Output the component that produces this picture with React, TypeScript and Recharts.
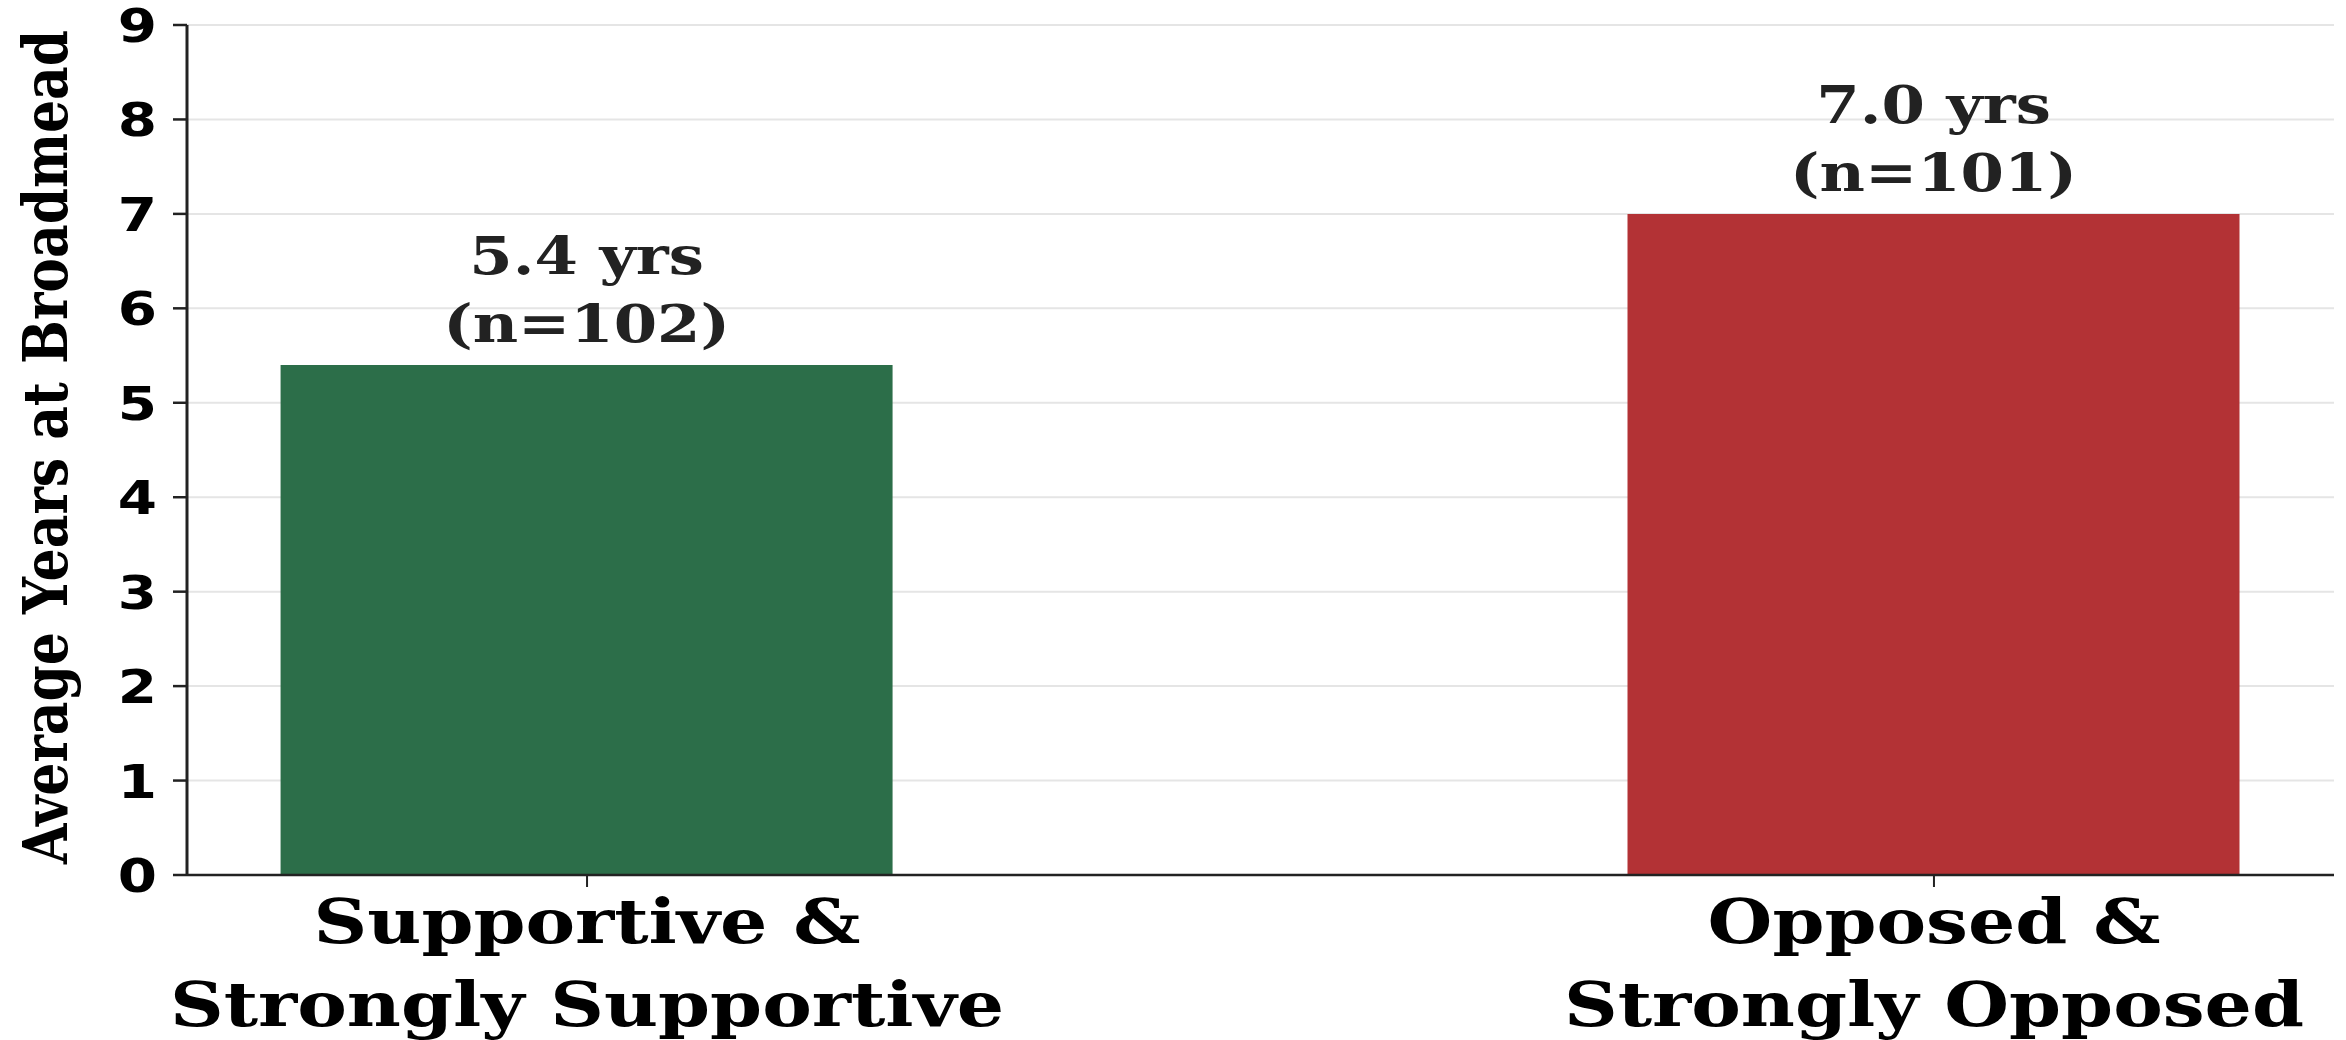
import React from 'react';
import { BarChart, Bar, XAxis, YAxis, CartesianGrid, Cell, LabelList } from 'recharts';

const categories = ['Supportive & Strongly Supportive', 'Opposed & Strongly Opposed'];
const tickLines = [
  ['Supportive &', 'Strongly Supportive'],
  ['Opposed &', 'Strongly Opposed'],
];
const avgYears = [5.4, 7.0];
const counts = [102, 101];
const barColors = ['#2c6e49', '#b33235'];
const yTicks = [0, 1, 2, 3, 4, 5, 6, 7, 8, 9];

const chartData = categories.map((name, i) => ({
  idx: i,
  name,
  years: avgYears[i],
  n: counts[i],
}));

// the reference image is stretched sideways, so text gets the same squash
const SX = 1.2;
const SERIF = '"DejaVu Serif", serif';
const SANS = '"DejaVu Sans", sans-serif';

const YTick = (props: any) => {
  const { x, y, payload } = props;
  return (
    <g transform={`translate(${x},${y}) scale(${SX},1)`}>
      <text x={0} y={17} textAnchor="end" fontFamily={SANS} fontWeight="bold" fontSize={47} fill="#000">
        {payload.value}
      </text>
    </g>
  );
};

const XTick = (props: any) => {
  const { x, y, payload } = props;
  const lines = tickLines[payload.value] || [];
  return (
    <g transform={`translate(${x},${y}) scale(${SX},1)`}>
      {lines.map((t, i) => (
        <text key={i} x={0} y={56 + i * 83} textAnchor="middle" fontFamily={SERIF} fontWeight="bold" fontSize={62} fill="#000">
          {t}
        </text>
      ))}
    </g>
  );
};

const ValueLabel = (props: any) => {
  const { x, y, width, index } = props;
  const cx = x + width / 2;
  return (
    <g transform={`translate(${cx},${y}) scale(${SX},1)`}>
      <text x={0} y={-91} textAnchor="middle" fontFamily={SERIF} fontWeight="bold" fontSize={52} fill="#222">
        {avgYears[index].toFixed(1)} yrs
      </text>
      <text x={0} y={-23} textAnchor="middle" fontFamily={SERIF} fontWeight="bold" fontSize={52} fill="#222">
        (n={counts[index]})
      </text>
    </g>
  );
};

export default function App() {
  return (
    <div style={{ position: 'absolute', left: 0, top: 0, width: 2346, height: 1040, background: '#fff' }}>
      <BarChart width={2346} height={1040} data={chartData} margin={{ top: 25, right: 12, bottom: 0, left: 0 }}>
        <CartesianGrid horizontal vertical={false} stroke="#e5e5e5" strokeWidth={2} />
        <XAxis
          type="number"
          dataKey="idx"
          domain={[-0.297, 1.297]}
          ticks={[0, 1]}
          interval={0}
          allowDataOverflow
          height={165}
          tickSize={12}
          tickMargin={0}
          axisLine={{ stroke: '#222', strokeWidth: 2.5 }}
          tickLine={{ stroke: '#222', strokeWidth: 2 }}
          tick={<XTick />}
        />
        <YAxis
          type="number"
          domain={[0, 9]}
          ticks={yTicks}
          interval={0}
          width={187}
          tickSize={14}
          tickMargin={16}
          axisLine={{ stroke: '#222', strokeWidth: 3 }}
          tickLine={{ stroke: '#222', strokeWidth: 2.5 }}
          tick={<YTick />}
        />
        <Bar dataKey="years" barSize={612} isAnimationActive={false}>
          {chartData.map((d, i) => (
            <Cell key={d.name} fill={barColors[i]} />
          ))}
          <LabelList dataKey="years" content={<ValueLabel />} />
        </Bar>
        <g transform={`translate(67,447) scale(${SX},1) rotate(-90)`}>
          <text x={0} y={0} textAnchor="middle" fontFamily={SERIF} fontWeight="bold" fontSize={52} fill="#000">
            Average Years at Broadmead
          </text>
        </g>
      </BarChart>
    </div>
  );
}
